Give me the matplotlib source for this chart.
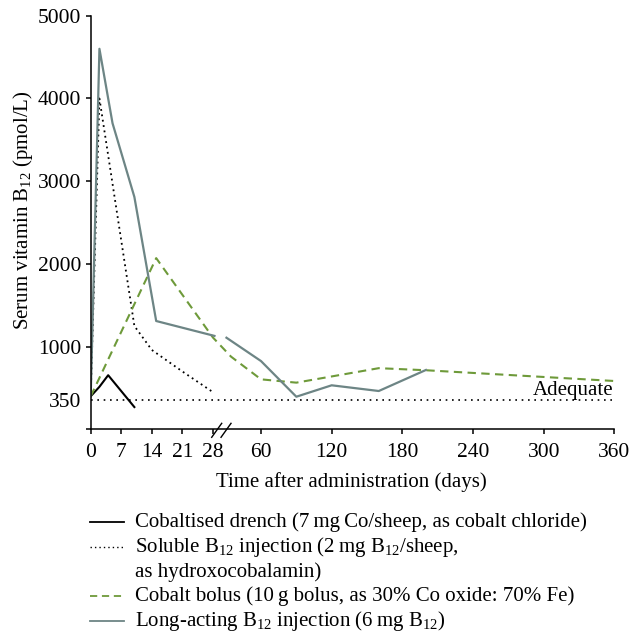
import numpy as np
import matplotlib
matplotlib.use("Agg")
import matplotlib.pyplot as plt
from matplotlib.lines import Line2D

plt.rcParams['font.family'] = ['Liberation Serif', 'DejaVu Serif']
plt.rcParams['mathtext.fontset'] = 'custom'
plt.rcParams['mathtext.rm'] = 'Liberation Serif'
plt.rcParams['mathtext.it'] = 'Liberation Serif:italic'

# ---------------- data ----------------
drench_days = [0, 2, 4, 10]
drench_vals = [400, 515, 655, 270]

soluble_days = [0, 2, 10, 14, 21, 28]
soluble_vals = [400, 4000, 1250, 960, 700, 450]

bolus_days = [0, 15, 28, 40, 60, 90, 160, 200, 360]
bolus_vals = [400, 2070, 1110, 880, 605, 565, 740, 715, 585]

longact_days = [0, 2, 5, 10, 15, 29, np.nan, 37, 60, 90, 120, 160, 200]
longact_vals = [400, 4600, 3700, 2810, 1310, 1130, np.nan, 1108, 826, 395, 533, 464, 718]

adequate_level = 350
adequate_span = [0, 360]

x_ticks = [0, 7, 14, 21, 28, 60, 120, 180, 240, 300, 360]
y_ticks = [0, 350, 1000, 2000, 3000, 4000, 5000]
y_ticklabels = ['', '350', '1000', '2000', '3000', '4000', '5000']

legend_labels = [
    'Cobaltised drench (7\u2009mg\u2009Co/sheep, as cobalt chloride)',
    'Soluble B$_{\\mathrm{12}}$ injection (2\u2009mg B$_{\\mathrm{12}}$/sheep,\nas hydroxocobalamin)',
    'Cobalt bolus (10\u2009g bolus, as 30% Co oxide: 70% Fe)',
    'Long-acting B$_{\\mathrm{12}}$ injection (6\u2009mg B$_{\\mathrm{12}}$)',
]

GRAY = '#6d8585'
GREEN = '#6e9a3a'
FS = 15
TFS = 15.5

# broken axis: 0-28 linear, 28-60 compressed gap, 60-360 linear
S2 = 0.2697

def fwd(x):
    x = np.asarray(x, dtype=float)
    return np.where(x <= 28, x,
                    np.where(x <= 60, 28 + (x - 28) * 11.0 / 32.0,
                             39 + (x - 60) * S2))

def inv(t):
    t = np.asarray(t, dtype=float)
    return np.where(t <= 28, t,
                    np.where(t <= 39, 28 + (t - 28) * 32.0 / 11.0,
                             60 + (t - 39) / S2))

W, H = 632, 636
fig = plt.figure(figsize=(W / 100, H / 100), dpi=100)
ax = fig.add_axes([90.7 / W, 1 - 429.4 / H, (614.3 - 90.7) / W, (429.4 - 15.7) / H])
ax.set_xscale('function', functions=(fwd, inv))
ax.set_xlim(0, 360)
ax.set_ylim(0, 5000)

ax.plot(adequate_span, [adequate_level] * 2, color='black', lw=1.2,
        linestyle=(0, (1, 2.8)), clip_on=False)
ax.plot(drench_days, drench_vals, color='black', lw=1.5)
ax.plot(soluble_days, soluble_vals, color='black', lw=1.3, linestyle=(0, (1, 2.0)))
ax.plot(bolus_days, bolus_vals, color=GREEN, lw=1.5, dashes=(4, 2.6))
ax.plot(longact_days, longact_vals, color=GRAY, lw=1.6)

ax.text(359, 415, 'Adequate', ha='right', va='baseline', fontsize=FS)

for s in ['top', 'right']:
    ax.spines[s].set_visible(False)
for s in ['left', 'bottom']:
    ax.spines[s].set_linewidth(1.1)

ax.set_xticks(x_ticks)
ax.set_xticklabels([str(v) for v in x_ticks])
ax.xaxis.set_minor_locator(matplotlib.ticker.NullLocator())
ax.set_yticks(y_ticks)
ax.set_yticklabels(y_ticklabels)
ax.tick_params(axis='x', direction='out', length=3.4, width=1.1, labelsize=TFS, pad=6.5)
ax.tick_params(axis='y', direction='out', length=3.4, width=1.1, labelsize=TFS, pad=3.5)
ax.yaxis.get_major_ticks()[1].tick1line.set_visible(False)

ax.set_ylabel('Serum vitamin B$_{\\mathrm{12}}$ (pmol/L)', fontsize=FS)
ax.yaxis.set_label_coords(-0.13, 0.53)
ax.yaxis.label.set_va('center')
ax.set_xlabel('Time after administration (days)', fontsize=FS)
ax.xaxis.set_label_coords(0.497, -0.127)
ax.xaxis.label.set_va('center')

# break marks
for x0 in (0.2311, 0.2489):
    ax.plot([x0, x0 + 0.0191], [-0.0191, 0.0147], transform=ax.transAxes,
            color='black', lw=1.0, clip_on=False)

# legend (manual)
styles = [
    dict(color='black', lw=1.3),
    dict(color='black', lw=1.0, linestyle=(0, (1, 2.2))),
    dict(color=GREEN, lw=1.3, dashes=(4, 2.6)),
    dict(color=GRAY, lw=1.3),
]
row_step = 24.8
b = 527.0
for lab, st in zip(legend_labels, styles):
    yl = 1 - (b - 5) / H
    fig.add_artist(Line2D([90 / W, 124 / W], [yl, yl], transform=fig.transFigure, **st))
    for line in lab.split('\n'):
        fig.text(135 / W, 1 - b / H, line, fontsize=FS, ha='left', va='baseline')
        b += row_step

fig.savefig('out.png', dpi=100)
